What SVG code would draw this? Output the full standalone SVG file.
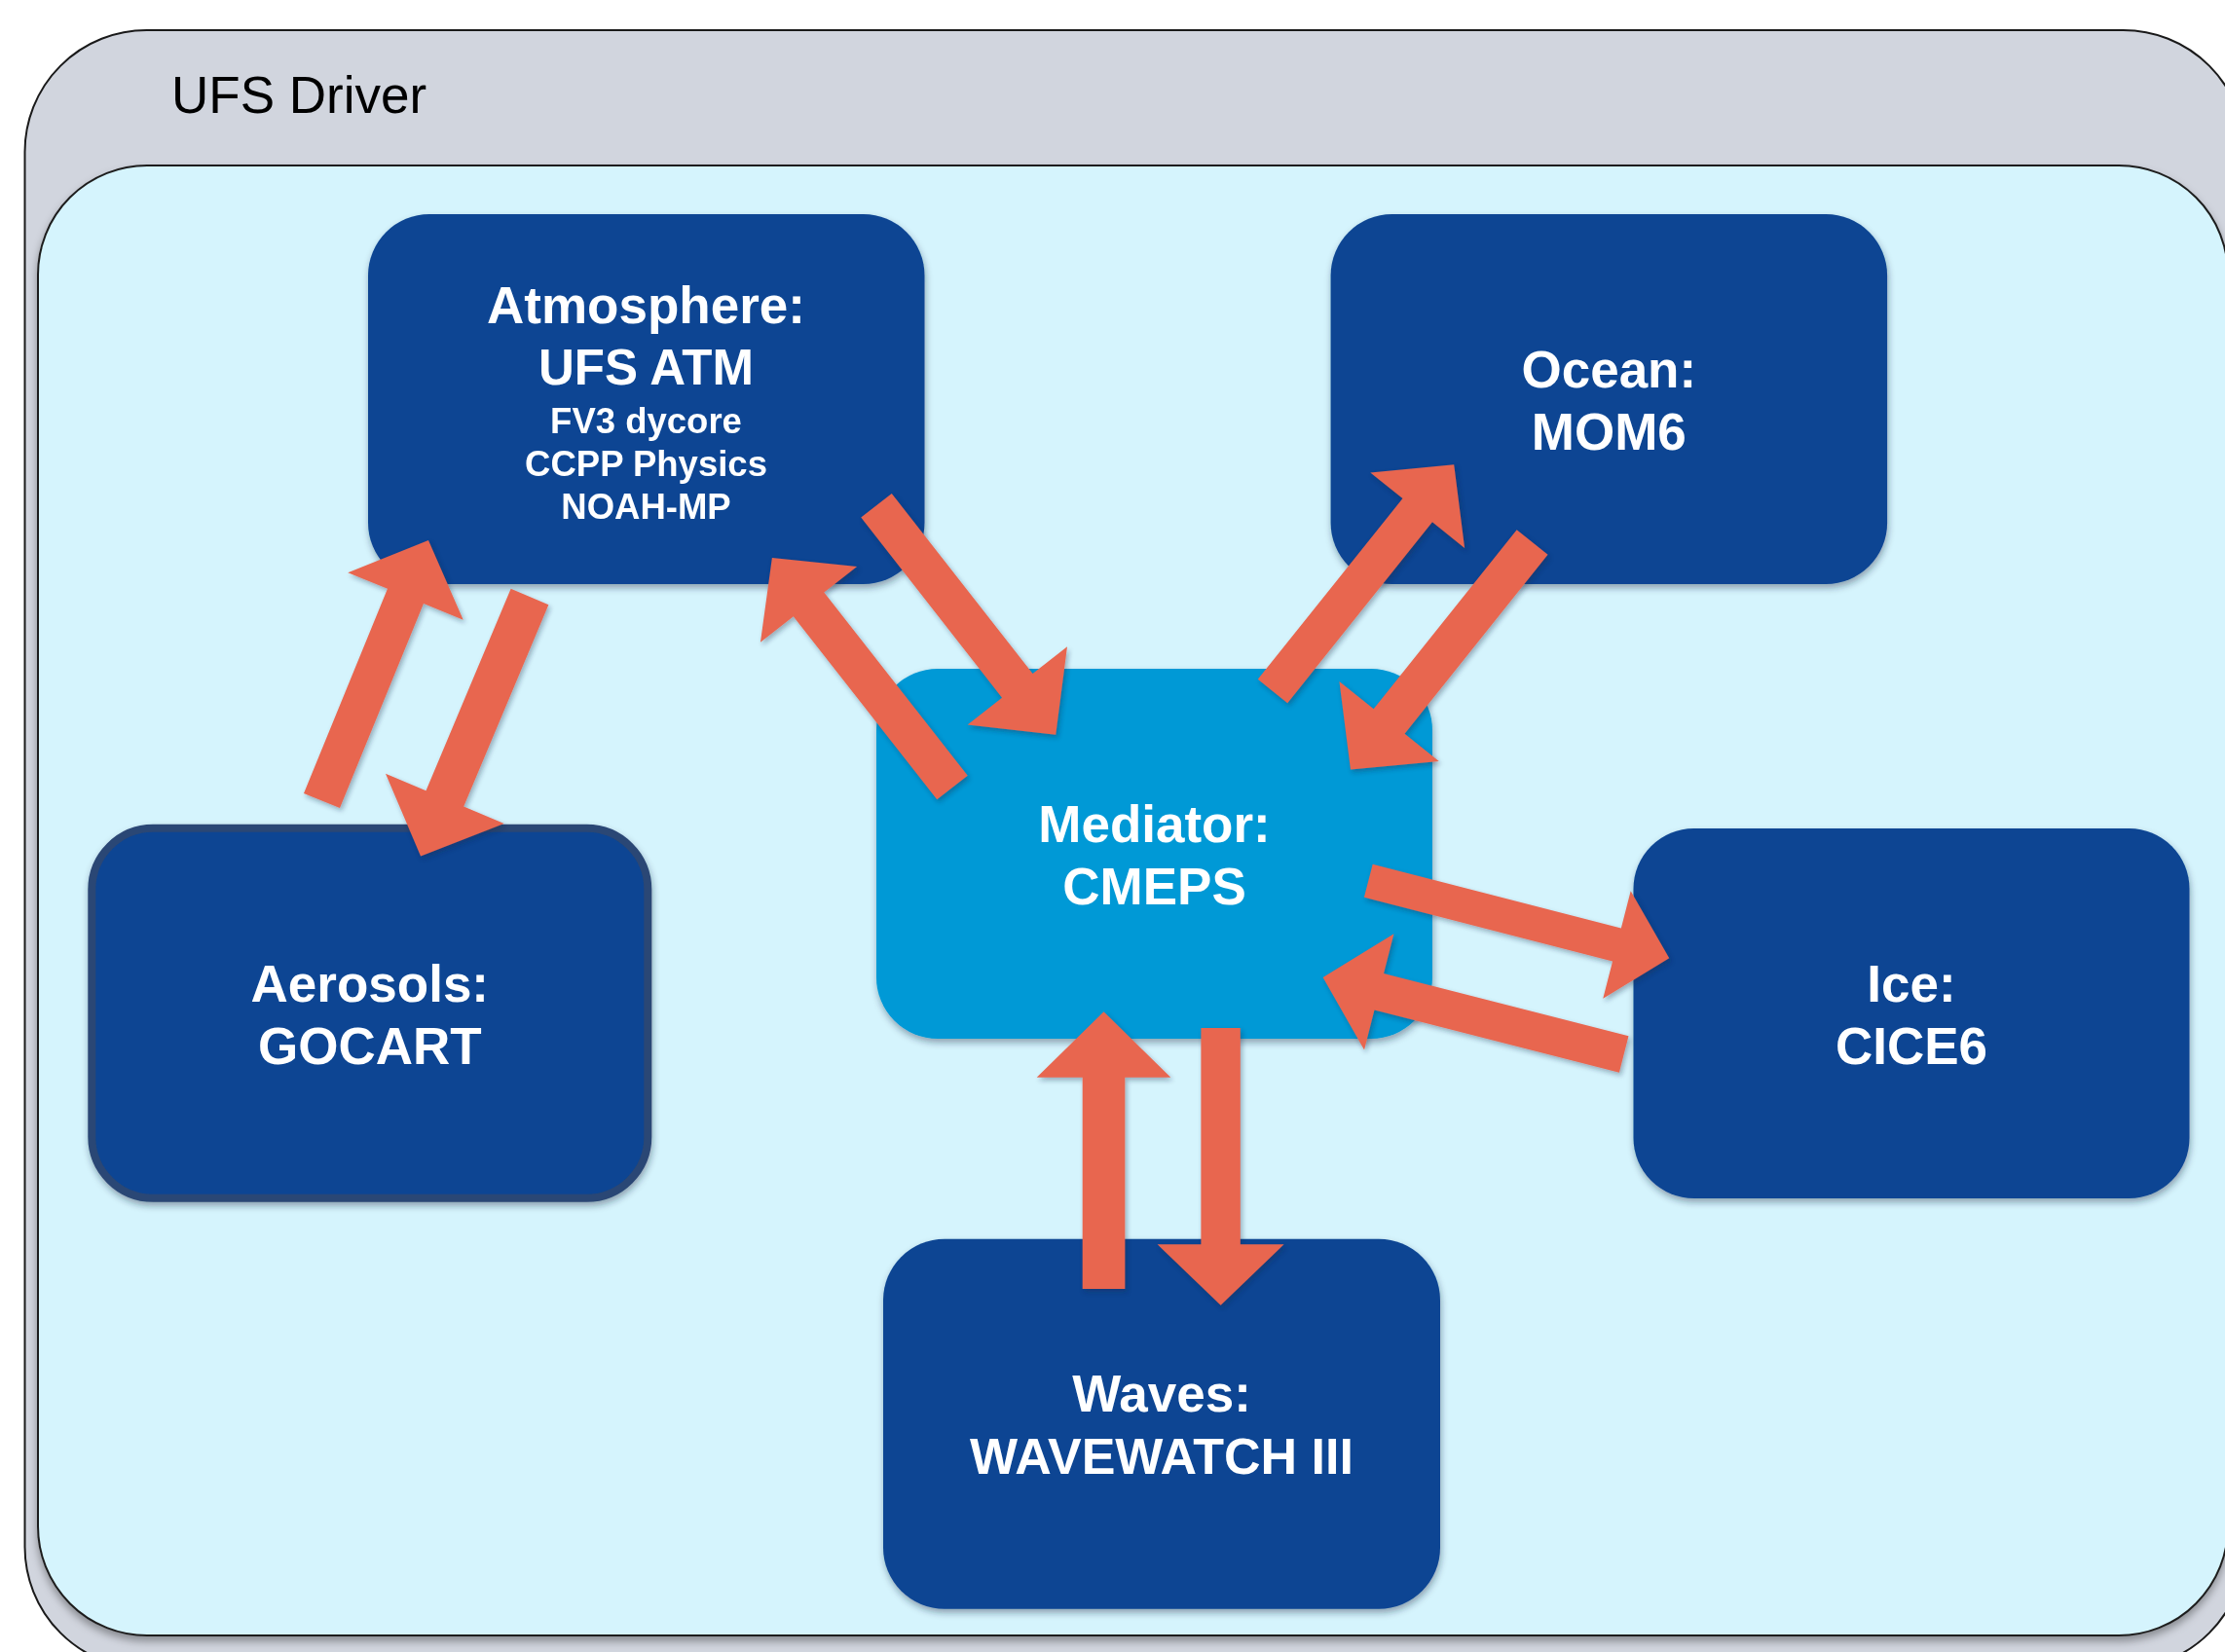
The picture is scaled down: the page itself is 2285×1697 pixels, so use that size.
<svg xmlns="http://www.w3.org/2000/svg" width="2285" height="1697" viewBox="0 0 2285 1697">
<style>
.lbl{font-family:"Liberation Sans",Arial,Helvetica,sans-serif;font-weight:bold;fill:#ffffff;text-anchor:middle}
.big{font-size:53px}
.small{font-size:36.5px}
.node{fill:#0b4593}
.arrow{fill:#e8664f}
</style>
<defs>
<filter id="shBox" x="-5%" y="-5%" width="110%" height="110%">
<feDropShadow dx="0" dy="5" stdDeviation="4" flood-color="#000" flood-opacity="0.35"/>
</filter>
<filter id="shNode" x="-10%" y="-10%" width="120%" height="120%">
<feDropShadow dx="1" dy="4" stdDeviation="3.5" flood-color="#1a2a40" flood-opacity="0.4"/>
</filter>
<filter id="shArrow" x="-20%" y="-20%" width="140%" height="140%">
<feDropShadow dx="2" dy="3" stdDeviation="2.5" flood-color="#1a2a40" flood-opacity="0.35"/>
</filter>
</defs>
<rect width="2285" height="1697" fill="#ffffff"/>
<g id="ufs-driver">
<rect x="25.5" y="31" width="2280" height="1683" rx="125" ry="125" fill="#d1d5de" stroke="#1a1a1a" stroke-width="2"/>
<text x="176" y="116" font-family="'Liberation Sans',Arial,Helvetica,sans-serif" font-size="53" fill="#000000">UFS Driver</text>
</g>
<g id="coupled-system">
<rect x="39" y="170" width="2249" height="1510" rx="112" ry="112" fill="#d5f4fd" stroke="#1f1f1f" stroke-width="2" filter="url(#shBox)"/>
</g>
<g id="atmosphere" filter="url(#shNode)">
<rect class="node" x="378" y="220" width="571.5" height="380" rx="63"/>
<text class="lbl big" x="663.5" y="332">Atmosphere:</text>
<text class="lbl" x="663.5" y="395" font-size="51">UFS ATM</text>
<text class="lbl small" x="663.5" y="444.5">FV3 dycore</text>
<text class="lbl small" x="663.5" y="488.5">CCPP Physics</text>
<text class="lbl small" x="663.5" y="532.5">NOAH-MP</text>
</g>
<g id="ocean" filter="url(#shNode)">
<rect class="node" x="1366.6" y="220" width="571.5" height="380" rx="63"/>
<text class="lbl big" x="1652.3" y="398">Ocean:</text>
<text class="lbl big" x="1652.3" y="462">MOM6</text>
</g>
<g id="aerosols" filter="url(#shNode)">
<rect class="node" x="94.3" y="850.8" width="571" height="380" rx="63" stroke="#2c4674" stroke-width="8"/>
<text class="lbl big" x="379.8" y="1028.5">Aerosols:</text>
<text class="lbl big" x="379.8" y="1092.5">GOCART</text>
</g>
<g id="mediator" filter="url(#shNode)">
<rect x="900" y="687" width="571" height="380" rx="63" fill="#0299d6"/>
<text class="lbl big" x="1185.5" y="864.5">Mediator:</text>
<text class="lbl big" x="1185.5" y="928.5">CMEPS</text>
</g>
<g id="ice" filter="url(#shNode)">
<rect class="node" x="1677.5" y="851" width="571" height="380" rx="62"/>
<text class="lbl big" x="1963" y="1028.5">Ice:</text>
<text class="lbl big" x="1963" y="1092.5">CICE6</text>
</g>
<g id="waves" filter="url(#shNode)">
<rect class="node" x="907" y="1272.7" width="572" height="380" rx="63"/>
<text class="lbl big" x="1193" y="1450">Waves:</text>
<text class="lbl" x="1193" y="1513.5" font-size="52">WAVEWATCH III</text>
</g>
<g id="connectors" filter="url(#shArrow)">
<polygon class="arrow" transform="translate(330.5,822.5) rotate(-67.74)" points="0,-20 227,-20 227,-64 289,0 227,64 227,20 0,20"/>
<polygon class="arrow" transform="translate(544,613) rotate(112.79)" points="0,-21 225,-21 225,-66 289,0 225,66 225,21 0,21"/>
<polygon class="arrow" transform="translate(978,809) rotate(-128.1)" points="0,-20 239,-20 239,-63 300,0 239,63 239,20 0,20"/>
<polygon class="arrow" transform="translate(900,519.3) rotate(51.96)" points="0,-20 235,-20 235,-65 299,0 235,65 235,20 0,20"/>
<polygon class="arrow" transform="translate(1307,710) rotate(-51.33)" points="0,-19.5 238,-19.5 238,-62 298,0 238,62 238,19.5 0,19.5"/>
<polygon class="arrow" transform="translate(1573.6,557) rotate(128.62)" points="0,-20.4 235.5,-20.4 235.5,-65.5 299,0 235.5,65.5 235.5,20.4 0,20.4"/>
<polygon class="arrow" transform="translate(1405.3,904.7) rotate(14.45)" points="0,-17.6 263.5,-17.6 263.5,-57 319,0 263.5,57 263.5,17.6 0,17.6"/>
<polygon class="arrow" transform="translate(1667.7,1083) rotate(-165.68)" points="0,-19.4 259.5,-19.4 259.5,-61.5 319,0 259.5,61.5 259.5,19.4 0,19.4"/>
<polygon class="arrow" transform="translate(1133.5,1324) rotate(-90)" points="0,-21.8 217.3,-21.8 217.3,-68.8 284.7,0 217.3,68.8 217.3,21.8 0,21.8"/>
<polygon class="arrow" transform="translate(1253.6,1056) rotate(90)" points="0,-20.2 222.3,-20.2 222.3,-65 284.7,0 222.3,65 222.3,20.2 0,20.2"/>
</g>
</svg>
